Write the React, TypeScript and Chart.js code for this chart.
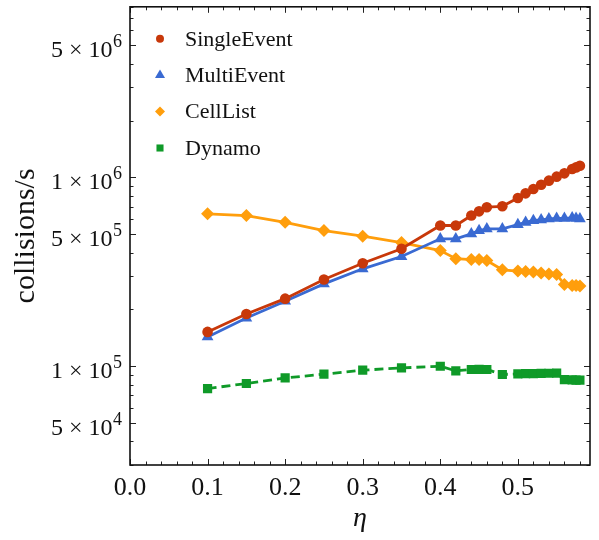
import React, { useEffect, useRef } from 'react';
import { Chart, registerables } from 'chart.js';

Chart.register(...registerables);

// ---- data ----
const eta = [0.1, 0.15, 0.2, 0.25, 0.3, 0.35, 0.4, 0.42, 0.44, 0.45, 0.46, 0.48, 0.5, 0.51, 0.52, 0.53, 0.54, 0.55, 0.56, 0.57, 0.575, 0.58];
const singleEvent = [1.52e5, 1.89e5, 2.28e5, 2.88e5, 3.51e5, 4.19e5, 5.56e5, 5.56e5, 6.28e5, 6.61e5, 6.95e5, 7.03e5, 7.77e5, 8.23e5, 8.68e5, 9.14e5, 9.61e5, 1.009e6, 1.05e6, 1.108e6, 1.129e6, 1.153e6];
const multiEvent = [1.43e5, 1.8e5, 2.21e5, 2.73e5, 3.28e5, 3.81e5, 4.73e5, 4.73e5, 5.02e5, 5.23e5, 5.34e5, 5.34e5, 5.62e5, 5.78e5, 5.91e5, 5.96e5, 6.03e5, 6.07e5, 6.07e5, 6.1e5, 6.07e5, 6.03e5];
const cellList = [6.41e5, 6.28e5, 5.78e5, 5.23e5, 4.88e5, 4.52e5, 4.1e5, 3.71e5, 3.67e5, 3.67e5, 3.63e5, 3.24e5, 3.19e5, 3.17e5, 3.15e5, 3.12e5, 3.08e5, 3.06e5, 2.71e5, 2.68e5, 2.68e5, 2.66e5];
const dynamo = [7.62e4, 8.1e4, 8.67e4, 9.08e4, 9.53e4, 9.8e4, 1.0e5, 9.45e4, 9.61e4, 9.62e4, 9.61e4, 9.04e4, 9.12e4, 9.14e4, 9.15e4, 9.17e4, 9.18e4, 9.2e4, 8.5e4, 8.46e4, 8.45e4, 8.45e4];

const seriesNames = ['SingleEvent', 'MultiEvent', 'CellList', 'Dynamo'];
const seriesColors = ['#C8380A', '#3A6AD2', '#FF9E0C', '#0F9A28'];
const seriesStyles = ['circle', 'triangle', 'rectRot', 'rect'];

const xMin = 0;
const xMax = 0.593;
const xTickStep = 0.02;
const xMajorEvery = 5;
const yMin = 3e4;
const yMax = 8e6;
const yLabelMantissas = [1, 5];
const yTickMantissas = [1, 2, 3, 4, 5, 6, 7, 8, 9];

const FONT = '"Liberation Serif", "Times New Roman", serif';

function splitLog(v: number) {
  const e = Math.floor(Math.log10(v) + 1e-9);
  const m = Math.round(v / Math.pow(10, e));
  return { m, e };
}

function drawMarker(ctx: CanvasRenderingContext2D, style: string, x: number, y: number, r: number) {
  ctx.beginPath();
  if (style === 'circle') {
    ctx.arc(x, y, r, 0, Math.PI * 2);
  } else if (style === 'triangle') {
    for (let k = 0; k < 3; k++) {
      const a = (k * 2 * Math.PI) / 3;
      const px = x + Math.sin(a) * r;
      const py = y - Math.cos(a) * r;
      if (k === 0) ctx.moveTo(px, py);
      else ctx.lineTo(px, py);
    }
    ctx.closePath();
  } else if (style === 'rectRot') {
    ctx.moveTo(x, y - r);
    ctx.lineTo(x + r, y);
    ctx.lineTo(x, y + r);
    ctx.lineTo(x - r, y);
    ctx.closePath();
  } else {
    const s = r * Math.SQRT1_2;
    ctx.rect(x - s, y - s, 2 * s, 2 * s);
  }
  ctx.fill();
}

const framePlugin = {
  id: 'mmaFrame',
  beforeDraw(chart: any) {
    const { ctx, width, height } = chart;
    ctx.save();
    ctx.fillStyle = '#ffffff';
    ctx.fillRect(0, 0, width, height);
    ctx.restore();
  },
  afterDraw(chart: any) {
    const { ctx, chartArea: a, scales } = chart;
    ctx.save();
    // inward tick marks on all four sides
    ctx.strokeStyle = '#222';
    ctx.lineWidth = 1;
    ctx.beginPath();
    scales.x.ticks.forEach((t: any, i: number) => {
      const px = Math.round(scales.x.getPixelForValue(t.value)) + 0.5;
      const len = i % xMajorEvery === 0 ? 6 : 3.5;
      ctx.moveTo(px, a.bottom);
      ctx.lineTo(px, a.bottom - len);
      ctx.moveTo(px, a.top);
      ctx.lineTo(px, a.top + len);
    });
    scales.y.ticks.forEach((t: any) => {
      const py = Math.round(scales.y.getPixelForValue(t.value)) + 0.5;
      const { m } = splitLog(t.value);
      const len = yLabelMantissas.includes(m) ? 6 : 3.5;
      ctx.moveTo(a.left, py);
      ctx.lineTo(a.left + len, py);
      ctx.moveTo(a.right, py);
      ctx.lineTo(a.right - len, py);
    });
    ctx.stroke();

    // y tick labels "m × 10^e" with a real superscript
    ctx.fillStyle = '#111';
    ctx.textBaseline = 'alphabetic';
    scales.y.ticks.forEach((t: any) => {
      const { m, e } = splitLog(t.value);
      if (!yLabelMantissas.includes(m)) return;
      const py = scales.y.getPixelForValue(t.value);
      const base = py + 11.5;
      const rightX = a.left - 8;
      ctx.font = `18px ${FONT}`;
      ctx.textAlign = 'right';
      const supTxt = String(e);
      const supW = ctx.measureText(supTxt).width;
      ctx.fillText(supTxt, rightX, base - 9.5);
      ctx.font = `24px ${FONT}`;
      const mainTxt = `${m} × 10`;
      ctx.fillText(mainTxt, rightX - supW - 0.5, base);
    });

    // frame
    ctx.strokeStyle = '#111';
    ctx.lineWidth = 1.6;
    ctx.strokeRect(a.left, a.top, a.right - a.left, a.bottom - a.top);

    // legend
    ctx.font = `22px ${FONT}`;
    ctx.textBaseline = 'middle';
    ctx.textAlign = 'left';
    const legendR = [4, 5.8, 5, 5];
    chart.data.datasets.forEach((ds: any, i: number) => {
      const y = a.top + 32 + i * 36.4;
      const x = a.left + 30;
      ctx.fillStyle = ds.backgroundColor;
      drawMarker(ctx, seriesStyles[i], x, y, legendR[i]);
      ctx.fillStyle = '#111';
      ctx.fillText(ds.label, a.left + 55, y + 1);
    });
    ctx.restore();
  },
};

export default function App() {
  const ref = useRef<HTMLCanvasElement | null>(null);

  useEffect(() => {
    if (!ref.current) return;
    const seriesValues = [singleEvent, multiEvent, cellList, dynamo];
    const radii = [5.3, 6.8, 6.5, 6.5];
    const chart = new Chart(ref.current, {
      type: 'line',
      data: {
        datasets: seriesValues.map((vals, i) => ({
          label: seriesNames[i],
          data: eta.map((x, j) => ({ x, y: vals[j] })),
          borderColor: seriesColors[i],
          backgroundColor: seriesColors[i],
          pointBackgroundColor: seriesColors[i],
          pointBorderColor: seriesColors[i],
          pointBorderWidth: 0,
          pointStyle: seriesStyles[i] as any,
          pointRadius: radii[i],
          pointHoverRadius: radii[i],
          borderWidth: 2.8,
          borderDash: i === 3 ? [9, 5] : [],
          tension: 0,
          fill: false,
        })),
      },
      options: {
        animation: false,
        responsive: false,
        devicePixelRatio: 1,
        layout: { padding: { top: 5, right: 9, left: 0, bottom: 0 } },
        plugins: {
          legend: { display: false },
          tooltip: { enabled: false },
        },
        scales: {
          x: {
            type: 'linear',
            min: xMin,
            max: xMax,
            afterBuildTicks: (scale: any) => {
              const ticks = [];
              for (let i = 0; xMin + i * xTickStep <= xMax + 1e-9; i++) {
                ticks.push({ value: +(xMin + i * xTickStep).toFixed(4) });
              }
              scale.ticks = ticks;
            },
            afterFit: (scale: any) => {
              scale.height = 75;
              scale.paddingLeft = 0;
              scale.paddingRight = 0;
            },
            grid: { display: false },
            border: { display: false },
            ticks: {
              autoSkip: false,
              maxRotation: 0,
              padding: 0,
              color: '#111',
              font: { family: FONT, size: 26 },
              callback: (v: any, i: number) => (i % xMajorEvery === 0 ? Number(v).toFixed(1) : ''),
            },
            title: {
              display: true,
              text: 'η',
              color: '#111',
              font: { family: FONT, size: 28, style: 'italic' },
              padding: { top: 0, bottom: 5 },
            },
          },
          y: {
            type: 'logarithmic',
            min: yMin,
            max: yMax,
            afterBuildTicks: (scale: any) => {
              const ticks = [];
              for (let e = Math.floor(Math.log10(yMin)); e <= Math.ceil(Math.log10(yMax)); e++) {
                for (const m of yTickMantissas) {
                  const v = m * Math.pow(10, e);
                  if (v >= yMin && v <= yMax) ticks.push({ value: v });
                }
              }
              scale.ticks = ticks;
            },
            afterFit: (scale: any) => {
              scale.width = 130;
              scale.paddingTop = 0;
              scale.paddingBottom = 0;
            },
            grid: { display: false },
            border: { display: false },
            ticks: {
              autoSkip: false,
              padding: 9,
              color: '#111',
              font: { family: FONT, size: 10 },
              callback: () => '',
            },
            title: {
              display: true,
              text: 'collisions/s',
              color: '#111',
              font: { family: FONT, size: 30 },
              padding: { top: 8, bottom: 0 },
            },
          },
        },
      },
      plugins: [framePlugin],
    });
    return () => chart.destroy();
  }, []);

  return (
    <div style={{ position: 'fixed', left: 0, top: 0, width: 599, height: 540, background: '#fff' }}>
      <canvas ref={ref} width={599} height={540} style={{ display: 'block' }} />
    </div>
  );
}
